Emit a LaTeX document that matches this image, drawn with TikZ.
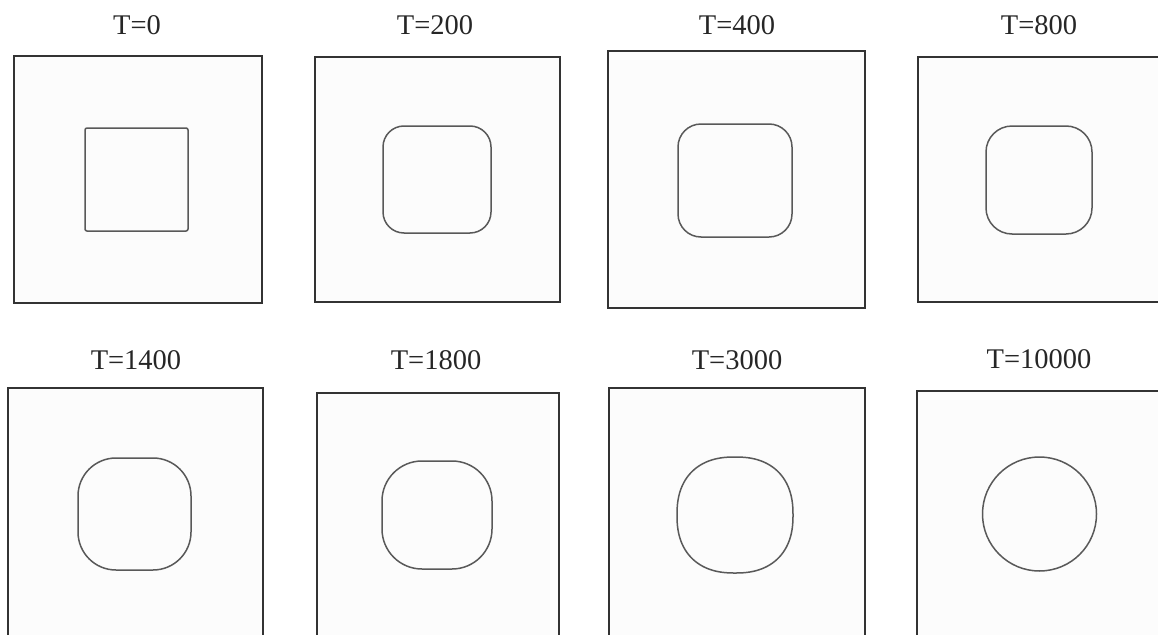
\documentclass[tikz,border=0pt]{standalone}
\usepackage{fontspec}
\setmainfont{Liberation Serif}
\tikzset{
  frame/.style 2 args={draw=black!80,fill=black!1,line width=1.8pt,minimum width=#1pt,minimum height=#2pt,inner sep=0pt},
  blob/.style={draw=black!65,line width=1.5pt},
  stamp/.style={anchor=base,text=black!85,font=\fontsize{28.5}{34}\selectfont,inner sep=0pt}
}
\begin{document}
\begin{tikzpicture}[x=1pt,y=-1pt]
\useasboundingbox (0,0) rectangle (1158,634);
\clip (0,0) rectangle (1158,634);
% upper row
\node[frame={248}{247}] (f1) at (138,179.5) {};
\node[frame={245}{245}] (f2) at (437.5,179.5) {};
\node[frame={257}{257}] (f3) at (736.5,179.5) {};
\node[frame={257}{245}] (f4) at (1046.5,179.5) {};
\node[stamp] (t1) at (137,35) {T=0};
\node[stamp] (t2) at (435,35) {T=200};
\node[stamp] (t3) at (737,35) {T=400};
\node[stamp] (t4) at (1039,35) {T=800};
% lower row
\node[frame={255}{272}] (f5) at (135.5,524) {};
\node[frame={242}{267}] (f6) at (438,526.5) {};
\node[frame={256}{272}] (f7) at (737,524) {};
\node[frame={258}{269}] (f8) at (1046,525.5) {};
\node[stamp] (t5) at (136,369) {T=1400};
\node[stamp] (t6) at (436,369) {T=1800};
\node[stamp] (t7) at (737,369) {T=3000};
\node[stamp] (t8) at (1039,368) {T=10000};
% interfaces
\draw[blob,rounded corners=2pt] (85,128) rectangle (188,231);
\draw[blob,rounded corners=21pt] (383,126) rectangle (491,233);
\draw[blob,rounded corners=23pt] (678,124) rectangle (792,237);
\draw[blob,rounded corners=26pt] (986,126) rectangle (1092,234);
\draw[blob,rounded corners=38pt] (78,458) rectangle (191,570);
\draw[blob,rounded corners=40pt] (382,461) rectangle (492,569);
\draw[blob,smooth,variable=\t,domain=0.5:360.5,samples=121]
  plot ({735+58*sign(cos(\t))*pow(abs(cos(\t)),0.85)},{515+58*sign(sin(\t))*pow(abs(sin(\t)),0.85)}) -- cycle;
\draw[blob] (1039.5,514) circle (57);
\end{tikzpicture}
\end{document}
